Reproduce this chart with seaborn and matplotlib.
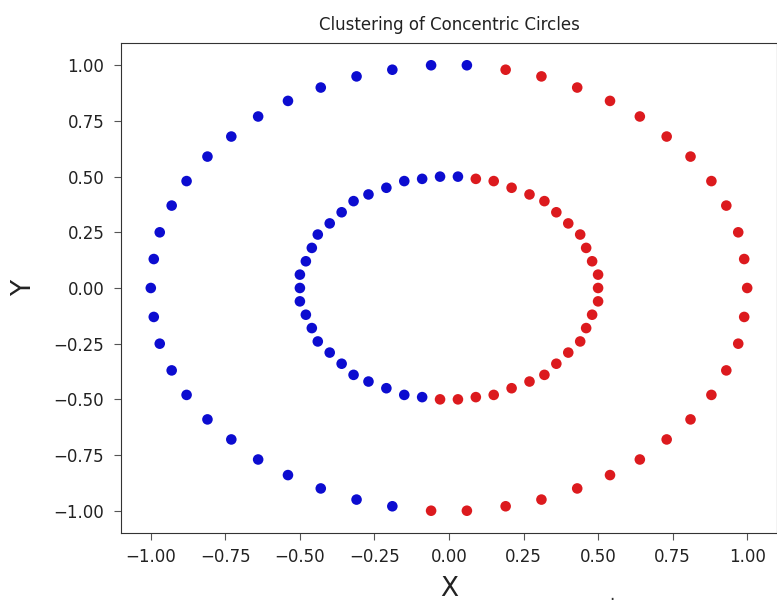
import matplotlib
matplotlib.use("Agg")
import matplotlib.pyplot as plt
import seaborn as sns
import pandas as pd

# points: outer ring (r = 1) and inner ring (r = 0.5)
outer_x = [1.00, 0.99, 0.97, 0.93, 0.88, 0.81, 0.73, 0.64, 0.54, 0.43, 0.31, 0.19, 0.06,
           -0.06, -0.19, -0.31, -0.43, -0.54, -0.64, -0.73, -0.81, -0.88, -0.93, -0.97, -0.99,
           -1.00, -0.99, -0.97, -0.93, -0.88, -0.81, -0.73, -0.64, -0.54, -0.43, -0.31, -0.19,
           -0.06, 0.06, 0.19, 0.31, 0.43, 0.54, 0.64, 0.73, 0.81, 0.88, 0.93, 0.97, 0.99]
outer_y = [0.00, 0.13, 0.25, 0.37, 0.48, 0.59, 0.68, 0.77, 0.84, 0.90, 0.95, 0.98, 1.00,
           1.00, 0.98, 0.95, 0.90, 0.84, 0.77, 0.68, 0.59, 0.48, 0.37, 0.25, 0.13,
           0.00, -0.13, -0.25, -0.37, -0.48, -0.59, -0.68, -0.77, -0.84, -0.90, -0.95, -0.98,
           -1.00, -1.00, -0.98, -0.95, -0.90, -0.84, -0.77, -0.68, -0.59, -0.48, -0.37, -0.25, -0.13]
outer_cluster = [1, 1, 1, 1, 1, 1, 1, 1, 1, 1, 1, 1, 0,
                 0, 0, 0, 0, 0, 0, 0, 0, 0, 0, 0, 0,
                 0, 0, 0, 0, 0, 0, 0, 0, 0, 0, 0, 0,
                 1, 1, 1, 1, 1, 1, 1, 1, 1, 1, 1, 1, 1]

inner_x = [0.50, 0.50, 0.48, 0.46, 0.44, 0.40, 0.36, 0.32, 0.27, 0.21, 0.15, 0.09, 0.03,
           -0.03, -0.09, -0.15, -0.21, -0.27, -0.32, -0.36, -0.40, -0.44, -0.46, -0.48, -0.50,
           -0.50, -0.50, -0.48, -0.46, -0.44, -0.40, -0.36, -0.32, -0.27, -0.21, -0.15, -0.09,
           -0.03, 0.03, 0.09, 0.15, 0.21, 0.27, 0.32, 0.36, 0.40, 0.44, 0.46, 0.48, 0.50]
inner_y = [0.00, 0.06, 0.12, 0.18, 0.24, 0.29, 0.34, 0.39, 0.42, 0.45, 0.48, 0.49, 0.50,
           0.50, 0.49, 0.48, 0.45, 0.42, 0.39, 0.34, 0.29, 0.24, 0.18, 0.12, 0.06,
           0.00, -0.06, -0.12, -0.18, -0.24, -0.29, -0.34, -0.39, -0.42, -0.45, -0.48, -0.49,
           -0.50, -0.50, -0.49, -0.48, -0.45, -0.42, -0.39, -0.34, -0.29, -0.24, -0.18, -0.12, -0.06]
inner_cluster = [1, 1, 1, 1, 1, 1, 1, 1, 1, 1, 1, 1, 0,
                 0, 0, 0, 0, 0, 0, 0, 0, 0, 0, 0, 0,
                 0, 0, 0, 0, 0, 0, 0, 0, 0, 0, 0, 0,
                 1, 1, 1, 1, 1, 1, 1, 1, 1, 1, 1, 1, 1]

cluster_colors = {0: "#0c0cd0", 1: "#dc1a1e"}
ticks = [-1.00, -0.75, -0.50, -0.25, 0.00, 0.25, 0.50, 0.75, 1.00]

df = pd.DataFrame({
    "x": outer_x + inner_x,
    "y": outer_y + inner_y,
    "cluster": outer_cluster + inner_cluster,
})

plt.rcParams["font.family"] = ["DejaVu Sans"]

fig = plt.figure(figsize=(7.77, 6.03), dpi=100)
ax = fig.add_axes([0.1557, 0.1161, 0.8443, 0.8126])

sns.scatterplot(data=df, x="x", y="y", hue="cluster", palette=cluster_colors,
                s=58, linewidth=0, legend=False, ax=ax)

ax.set_xlim(-1.1, 1.1)
ax.set_ylim(-1.1, 1.1)
ax.set_xticks(ticks)
ax.set_yticks(ticks)
ax.tick_params(axis="both", labelsize=12, length=5, color="#555555", labelcolor="#222222")
ax.tick_params(axis="x", pad=6)
ax.tick_params(axis="y", pad=7)
for s in ax.spines.values():
    s.set_color("#333333")

ax.set_title("Clustering of Concentric Circles", fontsize=12, pad=9, color="#222222")
ax.set_xlabel("X", fontsize=19, labelpad=7, color="#222222")
ax.set_ylabel("Y", fontsize=19, labelpad=12, color="#222222")

# stray dot under the plot in the reference
fig.text(612 / 777, 1 - 595 / 603, ".", fontsize=12, ha="center", va="center", color="#333333")

fig.savefig("out.png", dpi=100)
